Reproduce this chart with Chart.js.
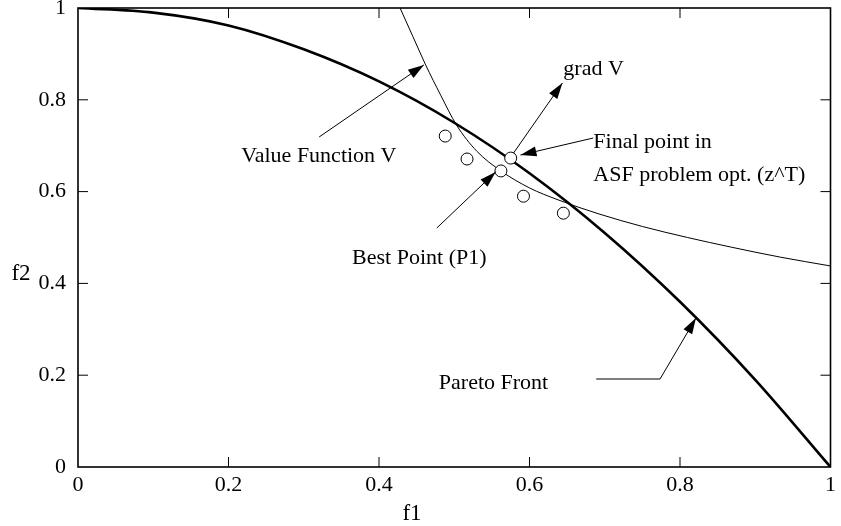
<!DOCTYPE html>
<html>
<head>
<meta charset="utf-8">
<script src="https://cdn.jsdelivr.net/npm/chart.js@4.4.1/dist/chart.umd.min.js"></script>
<style>
  html, body { margin: 0; padding: 0; background: #fff; }
  canvas { display: block; }
</style>
</head>
<body>
<canvas id="chart" width="841" height="526"></canvas>
<script>
// values
const paretoF1 = [0, 0.1, 0.2, 0.3, 0.4, 0.5, 0.6, 0.7, 0.8, 0.9, 1.0];
const paretoF2 = [1, 0.99, 0.962, 0.91, 0.84, 0.75, 0.64, 0.51, 0.36, 0.19, 0];

const valueF1 = [0.428, 0.445, 0.462, 0.482, 0.503, 0.53, 0.562, 0.6, 0.638, 0.691, 0.75, 0.81, 0.868, 0.934, 1.0];
const valueF2 = [1.0, 0.938, 0.876, 0.81, 0.745, 0.688, 0.645, 0.608, 0.582, 0.552, 0.524, 0.5, 0.479, 0.457, 0.438];

const pointF1 = [0.488, 0.517, 0.562, 0.575, 0.592, 0.645];
const pointF2 = [0.721, 0.671, 0.645, 0.673, 0.590, 0.553];

const xTickLabels = ['0', '0.2', '0.4', '0.6', '0.8', '1'];
const yTickLabels = ['0', '0.2', '0.4', '0.6', '0.8', '1'];

const FONT = "'Liberation Serif', 'DejaVu Serif', serif";

function toXY(xs, ys) {
    return xs.map(function(x, i) { return { x: x, y: ys[i] }; });
}

function arrowHead(c, x1, y1, x2, y2) {
    const a = Math.atan2(y2 - y1, x2 - x1), L = 16, W = 5;
    c.beginPath();
    c.moveTo(x2, y2);
    c.lineTo(x2 - L * Math.cos(a) + W * Math.sin(a), y2 - L * Math.sin(a) - W * Math.cos(a));
    c.lineTo(x2 - L * Math.cos(a) - W * Math.sin(a), y2 - L * Math.sin(a) + W * Math.cos(a));
    c.closePath();
    c.fill();
}

// leader lines in data units, last point gets the arrow head
const arrows = [
    [[0.3205, 0.719], [0.4596, 0.876]],
    [[0.5788, 0.684], [0.6437, 0.8366]],
    [[0.6848, 0.7168], [0.588, 0.6797]],
    [[0.4768, 0.5207], [0.555, 0.6427]],
    [[0.6887, 0.1917], [0.7735, 0.1917], [0.8212, 0.3246]]
];

const notes = [
    ['Value Function V', 0.217, 0.664],
    ['grad V', 0.645, 0.854],
    ['Final point in', 0.6848, 0.695],
    ['ASF problem opt. (z^T)', 0.6848, 0.623],
    ['Best Point (P1)', 0.3642, 0.442],
    ['Pareto Front', 0.4795, 0.170]
];

const framePlugin = {
    id: 'frame',
    afterDraw: function(chart) {
        const c = chart.ctx, a = chart.chartArea;
        const xs = chart.scales.x, ys = chart.scales.y;
        c.save();
        c.strokeStyle = '#000';
        c.fillStyle = '#000';

        // inward ticks on all four sides
        c.lineWidth = 1;
        c.beginPath();
        [0.2, 0.4, 0.6, 0.8].forEach(function(v) {
            const px = xs.getPixelForValue(v), py = ys.getPixelForValue(v);
            c.moveTo(px, a.bottom); c.lineTo(px, a.bottom - 10);
            c.moveTo(px, a.top); c.lineTo(px, a.top + 10);
            c.moveTo(a.left, py); c.lineTo(a.left + 10, py);
            c.moveTo(a.right, py); c.lineTo(a.right - 10, py);
        });
        c.stroke();

        c.lineWidth = 1.6;
        c.strokeRect(a.left, a.top, a.right - a.left, a.bottom - a.top);

        // annotations
        c.lineWidth = 1;
        arrows.forEach(function(pts) {
            const p = pts.map(function(q) { return [xs.getPixelForValue(q[0]), ys.getPixelForValue(q[1])]; });
            c.beginPath();
            c.moveTo(p[0][0], p[0][1]);
            for (let i = 1; i < p.length; i++) c.lineTo(p[i][0], p[i][1]);
            c.stroke();
            const n = p.length;
            arrowHead(c, p[n - 2][0], p[n - 2][1], p[n - 1][0], p[n - 1][1]);
        });

        c.font = '22px ' + FONT;
        c.textAlign = 'left';
        c.textBaseline = 'alphabetic';
        notes.forEach(function(t) {
            c.fillText(t[0], xs.getPixelForValue(t[1]), ys.getPixelForValue(t[2]));
        });

        // axis titles
        c.font = '23px ' + FONT;
        c.textAlign = 'center';
        c.fillText('f1', 412, 520);
        c.fillText('f2', 21, 280);
        c.restore();
    }
};

const ctx = document.getElementById('chart');
new Chart(ctx, {
    type: 'scatter',
    data: {
        datasets: [{
            label: 'Points',
            data: toXY(pointF1, pointF2),
            pointRadius: 6,
            pointBackgroundColor: '#fff',
            pointBorderColor: '#000',
            pointBorderWidth: 1,
            showLine: false,
            order: 0
        }, {
            label: 'Pareto Front',
            data: toXY(paretoF1, paretoF2),
            showLine: true,
            borderColor: '#000',
            borderWidth: 2.6,
            pointRadius: 0,
            cubicInterpolationMode: 'monotone',
            order: 1
        }, {
            label: 'Value Function V',
            data: toXY(valueF1, valueF2),
            showLine: true,
            borderColor: '#000',
            borderWidth: 1,
            pointRadius: 0,
            cubicInterpolationMode: 'monotone',
            order: 2
        }]
    },
    options: {
        responsive: false,
        animation: false,
        layout: { padding: { top: 8, right: 8, left: 0, bottom: 0 } },
        plugins: {
            legend: { display: false },
            tooltip: { enabled: false }
        },
        scales: {
            x: {
                type: 'linear',
                min: 0,
                max: 1,
                grid: { display: false, drawTicks: false },
                border: { display: false },
                ticks: {
                    stepSize: 0.2,
                    padding: 5,
                    color: '#000',
                    maxRotation: 0,
                    font: { family: FONT, size: 22 },
                    callback: function(v, i) { return xTickLabels[i]; }
                },
                afterFit: function(s) { s.height = 59; }
            },
            y: {
                type: 'linear',
                min: 0,
                max: 1,
                grid: { display: false, drawTicks: false },
                border: { display: false },
                ticks: {
                    stepSize: 0.2,
                    padding: 12,
                    color: '#000',
                    font: { family: FONT, size: 22 },
                    callback: function(v, i) { return yTickLabels[i]; }
                },
                afterFit: function(s) { s.width = 78; s.paddingTop = 0; s.paddingBottom = 0; }
            }
        }
    },
    plugins: [framePlugin]
});
</script>
</body>
</html>
